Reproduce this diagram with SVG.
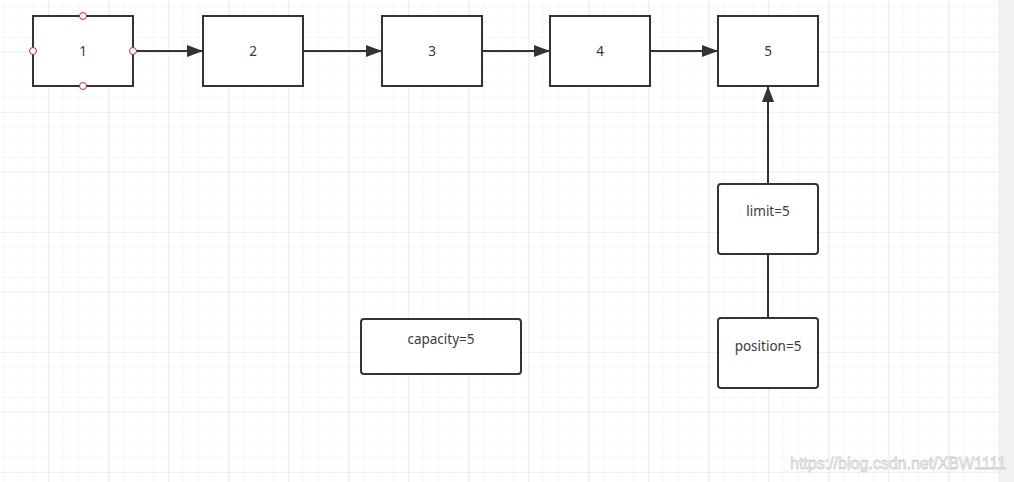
<svg xmlns="http://www.w3.org/2000/svg" width="1014" height="482" viewBox="0 0 1014 482">
<defs>
<pattern id="minor" x="3.3" y="6.7" width="15" height="15" patternUnits="userSpaceOnUse">
<path d="M0 0H15M0 0V15" fill="none" stroke="#f0f0f0" stroke-width="1"/>
</pattern>
<pattern id="major" x="48.3" y="51.7" width="60" height="60" patternUnits="userSpaceOnUse">
<path d="M0 0H60M0 0V60" fill="none" stroke="#e2e2e2" stroke-width="1"/>
</pattern>
<marker id="arr" markerWidth="16" markerHeight="12" viewBox="0 0 16 12" refX="16" refY="6" orient="auto" markerUnits="userSpaceOnUse">
<path d="M0 0L16 6L0 12Z" fill="#333"/>
</marker>
</defs>
<style>
.box{fill:#fff;stroke:#333;stroke-width:2}
.lbl{font-family:"Noto Sans","Open Sans",sans-serif;font-size:13.5px;fill:#3a3a3a;text-anchor:middle;dominant-baseline:central}
.edge{fill:none;stroke:#333;stroke-width:2}
.pt{fill:#fff;stroke:#a33;stroke-width:1}
</style>
<rect width="1014" height="482" fill="#fff"/>
<rect width="998" height="482" fill="url(#minor)"/>
<rect width="998" height="482" fill="url(#major)"/>
<rect x="998" y="0" width="16" height="482" fill="#f1f1f1"/>
<g id="connectors">
<path class="edge" d="M133 51H203" marker-end="url(#arr)"/>
<path class="edge" d="M303 51H382" marker-end="url(#arr)"/>
<path class="edge" d="M482 51H550" marker-end="url(#arr)"/>
<path class="edge" d="M650 51H718" marker-end="url(#arr)"/>
<path class="edge" d="M768 184V86" marker-end="url(#arr)"/>
<path class="edge" d="M768 254V318"/>
</g>
<g id="n1"><rect class="box" x="33" y="16" width="100" height="70"/><text class="lbl" x="83" y="51">1</text>
<circle class="pt" cx="83" cy="16" r="3.5"/><circle class="pt" cx="33" cy="51" r="3.5"/><circle class="pt" cx="133" cy="51" r="3.5"/><circle class="pt" cx="83" cy="86" r="3.5"/></g>
<g id="n2"><rect class="box" x="203" y="16" width="100" height="70"/><text class="lbl" x="253" y="51">2</text></g>
<g id="n3"><rect class="box" x="382" y="16" width="100" height="70"/><text class="lbl" x="432" y="51">3</text></g>
<g id="n4"><rect class="box" x="550" y="16" width="100" height="70"/><text class="lbl" x="600" y="51">4</text></g>
<g id="n5"><rect class="box" x="718" y="16" width="100" height="70"/><text class="lbl" x="768" y="51">5</text></g>
<g id="limit"><rect class="box" x="718" y="184" width="100" height="70" rx="3"/><text class="lbl" x="768" y="211">limit=5</text></g>
<g id="position"><rect class="box" x="718" y="318" width="100" height="70" rx="3"/><text class="lbl" x="768" y="346">position=5</text></g>
<g id="capacity"><rect class="box" x="361" y="319" width="160" height="55" rx="3"/><text class="lbl" x="441" y="339">capacity=5</text></g>
<text x="790" y="469" font-family="Liberation Sans, Arial, sans-serif" font-size="16" fill="#fff" stroke="#cfcfcf" stroke-width="0.8">https://blog.csdn.net/XBW1111</text>
</svg>
